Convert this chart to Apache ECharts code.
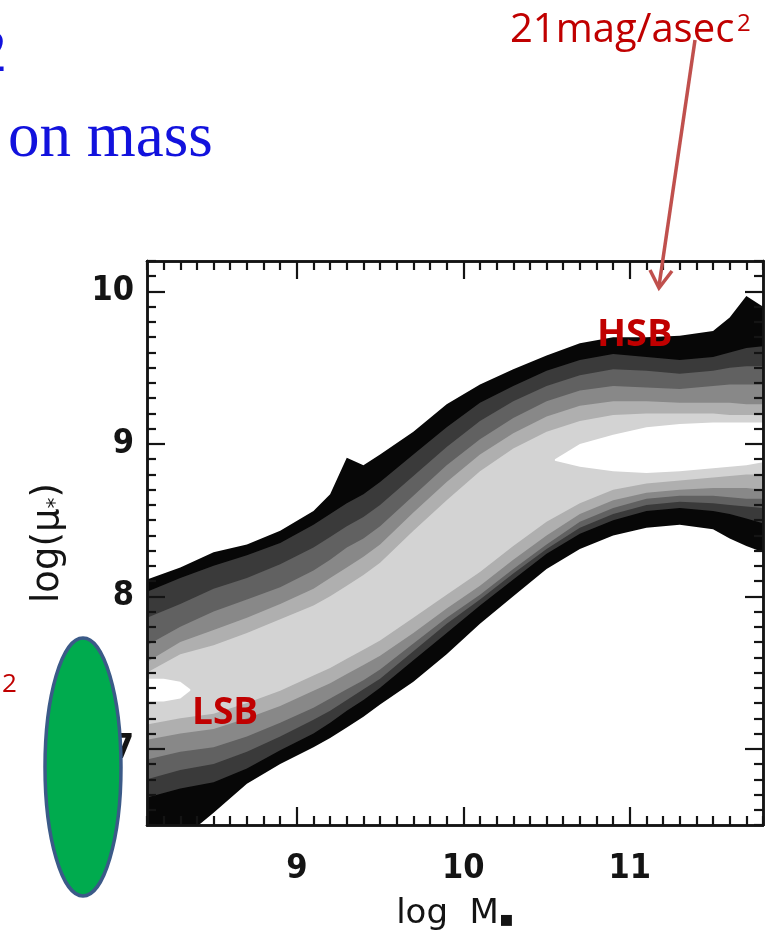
<!DOCTYPE html>
<html>
<head>
<meta charset="utf-8">
<script src="https://cdn.jsdelivr.net/npm/echarts@6/dist/echarts.min.js"></script>
<style>
  html, body { margin: 0; padding: 0; background: #ffffff; }
  #chart { width: 769px; height: 936px; }
</style>
</head>
<body>
<div id="chart"></div>
<script>
// Axis ranges and labelled ticks
const MASS_MIN = 8.1, MASS_MAX = 11.8;
const MU_MIN = 6.5, MU_MAX = 10.2;
const massTicks = [9, 10, 11];
const muTicks = [7, 8, 9, 10];

// Stellar-mass samples at which each density contour is traced
const massSamples = [8.1, 8.3, 8.5, 8.7, 8.9, 9.1, 9.2, 9.3, 9.4, 9.5, 9.7, 9.9, 10.1, 10.3, 10.5, 10.7, 10.9, 11.1, 11.3, 11.5, 11.6, 11.7, 11.8];

// Upper edge of each contour level (outermost = 1)
const edgeTop1 = [8.11, 8.19, 8.29, 8.34, 8.43, 8.56, 8.67, 8.91, 8.86, 8.93, 9.08, 9.26, 9.39, 9.49, 9.58, 9.66, 9.70, 9.70, 9.71, 9.74, 9.83, 9.97, 9.90];
const edgeTop2 = [8.03, 8.12, 8.20, 8.27, 8.35, 8.47, 8.54, 8.61, 8.67, 8.75, 8.93, 9.11, 9.27, 9.38, 9.48, 9.55, 9.59, 9.57, 9.55, 9.57, 9.60, 9.63, 9.64];
const edgeTop3 = [7.86, 7.95, 8.05, 8.12, 8.21, 8.32, 8.39, 8.46, 8.52, 8.60, 8.79, 8.98, 9.15, 9.28, 9.38, 9.45, 9.49, 9.48, 9.46, 9.48, 9.50, 9.51, 9.51];
const edgeTop4 = [7.68, 7.80, 7.90, 7.98, 8.06, 8.17, 8.24, 8.32, 8.38, 8.46, 8.66, 8.86, 9.03, 9.17, 9.28, 9.35, 9.38, 9.37, 9.36, 9.38, 9.39, 9.39, 9.39];
const edgeTop5 = [7.57, 7.70, 7.78, 7.86, 7.95, 8.05, 8.12, 8.19, 8.26, 8.34, 8.55, 8.75, 8.93, 9.07, 9.18, 9.25, 9.28, 9.28, 9.27, 9.27, 9.27, 9.26, 9.26];
const edgeTop6 = [7.50, 7.62, 7.68, 7.76, 7.85, 7.94, 8.00, 8.07, 8.14, 8.22, 8.43, 8.63, 8.82, 8.97, 9.08, 9.15, 9.19, 9.20, 9.20, 9.20, 9.19, 9.19, 9.19];

// Lower edge of each contour level
const edgeBottom1 = [6.30, 6.40, 6.58, 6.77, 6.90, 7.01, 7.07, 7.14, 7.21, 7.29, 7.44, 7.62, 7.82, 8.00, 8.18, 8.31, 8.40, 8.45, 8.47, 8.44, 8.38, 8.33, 8.29];
const edgeBottom2 = [6.68, 6.74, 6.78, 6.87, 6.99, 7.10, 7.17, 7.25, 7.32, 7.40, 7.58, 7.76, 7.94, 8.11, 8.28, 8.41, 8.50, 8.56, 8.58, 8.56, 8.54, 8.51, 8.48];
const edgeBottom3 = [6.80, 6.86, 6.90, 6.98, 7.08, 7.19, 7.25, 7.32, 7.39, 7.46, 7.64, 7.82, 7.98, 8.15, 8.31, 8.45, 8.54, 8.60, 8.62, 8.61, 8.60, 8.59, 8.58];
const edgeBottom4 = [6.93, 6.98, 7.01, 7.08, 7.17, 7.27, 7.33, 7.39, 7.45, 7.52, 7.69, 7.86, 8.01, 8.18, 8.34, 8.49, 8.58, 8.64, 8.66, 8.66, 8.65, 8.64, 8.64];
const edgeBottom5 = [7.06, 7.10, 7.13, 7.20, 7.28, 7.38, 7.43, 7.49, 7.55, 7.61, 7.76, 7.92, 8.07, 8.24, 8.40, 8.54, 8.63, 8.68, 8.70, 8.71, 8.71, 8.71, 8.70];
const edgeBottom6 = [7.16, 7.20, 7.23, 7.30, 7.38, 7.48, 7.53, 7.59, 7.65, 7.71, 7.86, 8.01, 8.16, 8.33, 8.49, 8.61, 8.70, 8.74, 8.76, 8.78, 8.79, 8.80, 8.80];

// Density peaks (innermost level)
const peakHighMass   = [10.55, 10.7, 10.9, 11.1, 11.3, 11.5, 11.7, 11.8];
const peakHighTop    = [8.90, 9.00, 9.06, 9.11, 9.13, 9.14, 9.14, 9.14];
const peakHighBottom = [8.89, 8.85, 8.82, 8.81, 8.82, 8.84, 8.86, 8.88];
const peakLowMass    = [8.1, 8.2, 8.3, 8.36];
const peakLowTop     = [7.46, 7.46, 7.44, 7.39];
const peakLowBottom  = [7.31, 7.31, 7.33, 7.38];

const levelShades = ['#070707', '#3a3a3a', '#616161', '#888888', '#afafaf', '#d3d3d3'];
const peakShade = '#ffffff';

const contourTops = [edgeTop1, edgeTop2, edgeTop3, edgeTop4, edgeTop5, edgeTop6];
const contourBottoms = [edgeBottom1, edgeBottom2, edgeBottom3, edgeBottom4, edgeBottom5, edgeBottom6];

const contours = levelShades.map((shade, i) => ({
  x: massSamples, top: contourTops[i], bottom: contourBottoms[i], fill: shade
}));
contours.push({ x: peakHighMass, top: peakHighTop, bottom: peakHighBottom, fill: peakShade });
contours.push({ x: peakLowMass, top: peakLowTop, bottom: peakLowBottom, fill: peakShade });

// Each contour is a closed ring: along its upper edge, then back along its lower edge
function renderContour(params, api) {
  const c = contours[params.dataIndex];
  const pts = [];
  for (let i = 0; i < c.x.length; i++) pts.push(api.coord([c.x[i], c.top[i]]));
  for (let i = c.x.length - 1; i >= 0; i--) pts.push(api.coord([c.x[i], c.bottom[i]]));
  return { type: 'polygon', shape: { points: pts }, style: { fill: c.fill, stroke: null } };
}

// Minor ticks every 0.1 dex between the labelled ticks
function tenths(lo, hi) {
  const out = [];
  for (let k = Math.round(lo * 10); k <= Math.round(hi * 10); k++) {
    if (k % 10 !== 0) out.push(k / 10);
  }
  return out;
}
const massMinor = tenths(MASS_MIN, MASS_MAX);
const muMinor = tenths(MU_MIN, MU_MAX);

const ink = '#141414';
const tickFont = { fontFamily: "'DejaVu Sans Condensed', 'DejaVu Sans', sans-serif", fontWeight: 'bold', fontSize: 34, color: ink };
const nameFont = "'DejaVu Sans', sans-serif";

function frameAxis(position, ticks, len, extra) {
  return Object.assign({
    type: 'value', position: position, z: 10,
    axisLine: { show: true, onZero: false, lineStyle: { color: ink, width: 2.5 } },
    axisTick: { show: true, inside: true, length: len, customValues: ticks, lineStyle: { color: ink, width: 2.2 } },
    axisLabel: { show: false },
    splitLine: { show: false }
  }, extra);
}

const chart = echarts.init(document.getElementById('chart'), null, { renderer: 'canvas' });

chart.setOption({
  backgroundColor: '#ffffff',
  animation: false,
  grid: { left: 147, top: 261, right: 6, bottom: 110, containLabel: false },
  xAxis: [
    frameAxis('bottom', massTicks, 18, {
      min: MASS_MIN, max: MASS_MAX,
      axisLabel: Object.assign({ show: true, customValues: massTicks, formatter: v => String(v), margin: 27 }, tickFont),
      name: '{a|log  M}{s|\u25aa}',
      nameLocation: 'middle', nameGap: 72,
      nameTextStyle: {
        rich: {
          a: { fontFamily: nameFont, fontSize: 34, color: ink },
          s: { fontFamily: nameFont, fontSize: 22, color: ink, verticalAlign: 'bottom' }
        }
      }
    }),
    frameAxis('bottom', massMinor, 9, { min: MASS_MIN, max: MASS_MAX }),
    frameAxis('top', massTicks, 18, { min: MASS_MIN, max: MASS_MAX }),
    frameAxis('top', massMinor, 9, { min: MASS_MIN, max: MASS_MAX })
  ],
  yAxis: [
    frameAxis('left', muTicks, 18, {
      min: MU_MIN, max: MU_MAX,
      axisLabel: Object.assign({ show: true, customValues: muTicks, formatter: v => String(v), margin: 13 }, tickFont),
      name: '{a|log(\u03bc}{s|*}{a|)}',
      nameLocation: 'middle', nameGap: 80,
      nameTextStyle: {
        rich: {
          a: { fontFamily: nameFont, fontSize: 37, color: ink },
          s: { fontFamily: nameFont, fontSize: 22, color: ink, verticalAlign: 'bottom' }
        }
      }
    }),
    frameAxis('left', muMinor, 9, { min: MU_MIN, max: MU_MAX }),
    frameAxis('right', muTicks, 18, { min: MU_MIN, max: MU_MAX }),
    frameAxis('right', muMinor, 9, { min: MU_MIN, max: MU_MAX })
  ],
  series: [{
    type: 'custom',
    xAxisIndex: 0, yAxisIndex: 0,
    clip: true,
    z: 2,
    renderItem: renderContour,
    data: contours.map(c => [c.x[0], c.top[0]])
  }],
  graphic: [
    // slide title fragments
    { type: 'text', z: 100, style: { text: '2', x: -24, y: 24, font: "62px 'Liberation Serif', serif", fill: '#1212dd' } },
    { type: 'text', z: 100, style: { text: 'on mass', x: 8, y: 108, font: "63px 'Liberation Serif', serif", fill: '#1212dd' } },
    // surface-brightness callout
    { type: 'text', z: 100, style: { text: '21mag/asec', x: 510, y: 11, font: "40px 'Open Sans', sans-serif", fill: '#c00000' } },
    { type: 'text', z: 100, style: { text: '2', x: 737, y: 12, font: "24px 'Open Sans', sans-serif", fill: '#c00000' } },
    { type: 'line', z: 100, shape: { x1: 695, y1: 40, x2: 659, y2: 286 }, style: { stroke: '#c0504d', lineWidth: 3.5 } },
    { type: 'polyline', z: 100, shape: { points: [[650, 270], [659, 288], [672, 271]] }, style: { stroke: '#c0504d', lineWidth: 3.5, fill: null } },
    { type: 'text', z: 100, style: { text: 'HSB', x: 597, y: 316, font: "bold 38px 'Open Sans', sans-serif", fill: '#c00000' } },
    { type: 'text', z: 100, style: { text: 'LSB', x: 192, y: 695, font: "bold 37px 'Open Sans', sans-serif", fill: '#c00000' } },
    { type: 'text', z: 100, style: { text: '2', x: 2, y: 672, font: "26px 'Open Sans', sans-serif", fill: '#c00000' } },
    // green marker
    { type: 'ellipse', z: 100, shape: { cx: 83, cy: 767, rx: 38, ry: 129 }, style: { fill: '#00ab4e', stroke: '#3b5a88', lineWidth: 3.5 } }
  ]
});
</script>
</body>
</html>
